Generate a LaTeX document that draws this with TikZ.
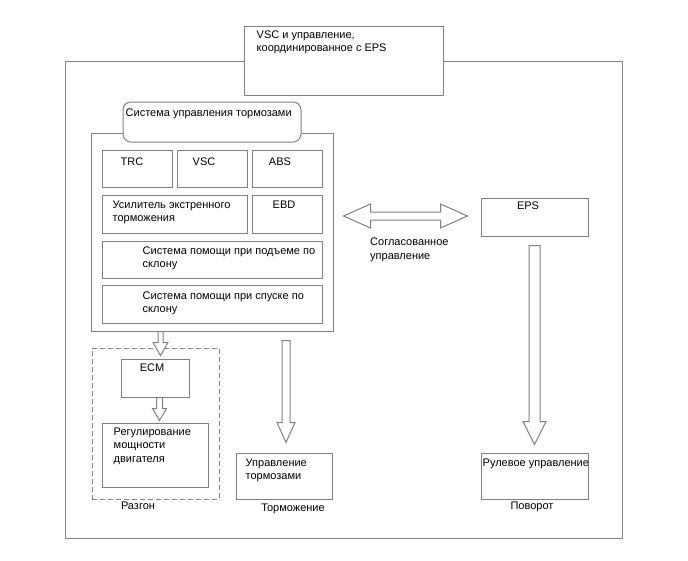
\documentclass[tikz,border=0pt]{standalone}
\usepackage{fontspec}
\setmainfont{Liberation Sans}
\usetikzlibrary{calc}

\definecolor{linegray}{RGB}{128,128,128}
\newcommand{\fs}{\fontsize{11}{13.5}\selectfont}

\tikzset{
  box/.style={draw=linegray, line width=1pt, fill=white, inner sep=0pt},
  txt/.style={font=\fs, align=left, inner sep=0pt, text=black},
  blk/.style={draw=linegray, line width=1pt, fill=white},
  % hollow arrow pointing down: shaft half width, head half width, head length
  blockdown/.style n args={3}{to path={let \p1=(\tikztostart), \p2=(\tikztotarget) in
    (\x1-#1,\y1) -- (\x1-#1,\y2+#3) -- (\x1-#2,\y2+#3) -- (\x1,\y2)
    -- (\x1+#2,\y2+#3) -- (\x1+#1,\y2+#3) -- (\x1+#1,\y1) -- cycle}},
  % hollow arrow with two heads, left to right
  blockboth/.style n args={3}{to path={let \p1=(\tikztostart), \p2=(\tikztotarget) in
    (\x1,\y1) -- (\x1+#3,\y1+#2) -- (\x1+#3,\y1+#1) -- (\x2-#3,\y1+#1) -- (\x2-#3,\y1+#2)
    -- (\x2,\y1) -- (\x2-#3,\y1-#2) -- (\x2-#3,\y1-#1) -- (\x1+#3,\y1-#1) -- (\x1+#3,\y1-#2) -- cycle}}
}

\begin{document}
\begin{tikzpicture}[x=1pt, y=-1pt]
  \useasboundingbox (0,0) rectangle (688,560);

  % outer frame
  \draw[linegray, line width=1pt] (65,61) rectangle (622,538);

  \node[box, minimum width=199, minimum height=69,
        label={[txt, anchor=north west, xshift=13pt, yshift=-5pt]north west:VSC и управление,\\координированное с EPS}]
        (title) at (343.5,60.5) {};

  % brake control block
  \node[box, minimum width=242, minimum height=198] (brk) at (212,232) {};
  \node[box, rounded corners=8pt, minimum width=178, minimum height=40,
        label={[txt, anchor=north west, xshift=3pt, yshift=-7.5pt]north west:Система управления тормозами}]
        (brkhead) at (212,122) {};

  \node[box, minimum width=70, minimum height=37,
        label={[txt, anchor=north, xshift=-5pt, yshift=-8pt]north:TRC}] (trc) at (137,168.5) {};
  \node[box, minimum width=70, minimum height=37,
        label={[txt, anchor=north, xshift=-8pt, yshift=-8pt]north:VSC}] (vsc) at (212,168.5) {};
  \node[box, minimum width=70, minimum height=37,
        label={[txt, anchor=north, xshift=-7pt, yshift=-8pt]north:ABS}] (abs) at (287,168.5) {};
  \node[box, minimum width=145, minimum height=38,
        label={[txt, anchor=north west, xshift=11pt, yshift=-6pt]north west:Усилитель экстренного\\торможения}]
        (eba) at (174.5,214) {};
  \node[box, minimum width=70, minimum height=38,
        label={[txt, anchor=north, xshift=-3pt, yshift=-6pt]north:EBD}] (ebd) at (287,214) {};
  \node[box, minimum width=220, minimum height=37,
        label={[txt, anchor=north west, xshift=41pt, yshift=-6pt]north west:Система помощи при подъеме по\\склону}]
        (hac) at (212,259.5) {};
  \node[box, minimum width=220, minimum height=38,
        label={[txt, anchor=north west, xshift=41pt, yshift=-7pt]north west:Система помощи при спуске по\\склону}]
        (dac) at (212,304) {};

  % acceleration
  \node[box, dashed, dash pattern=on 5pt off 3pt, minimum width=127, minimum height=151,
        label={[txt, anchor=north, xshift=-17.5pt, yshift=-2pt]south:Разгон}] (accel) at (155.5,423.5) {};
  \node[box, minimum width=68, minimum height=38,
        label={[txt, anchor=north, xshift=-3pt, yshift=-5pt]north:ECM}] (ecm) at (155,378) {};
  \node[box, minimum width=106, minimum height=64,
        label={[txt, anchor=north west, xshift=12pt, yshift=-5pt]north west:Регулирование\\мощности\\двигателя}]
        (engpwr) at (155,455) {};

  % braking and steering
  \node[box, minimum width=96, minimum height=46,
        label={[txt, anchor=north west, xshift=10pt, yshift=-6pt]north west:Управление\\тормозами},
        label={[txt, anchor=north, xshift=9pt, yshift=-4pt]south:Торможение}] (brkctl) at (284,476) {};
  \node[box, minimum width=107, minimum height=38,
        label={[txt, anchor=north, xshift=-6.5pt, yshift=-4pt]north:EPS}] (eps) at (534.5,217) {};
  \node[box, minimum width=107, minimum height=46,
        label={[txt, anchor=north west, xshift=2pt, yshift=-6pt]north west:Рулевое управление},
        label={[txt, anchor=north, xshift=-2.5pt, yshift=-2pt]south:Поворот}] (steer) at (534.5,476) {};

  \node[txt, anchor=north west] (coordlbl) at (370,238) {Согласованное\\управление};

  % arrows
  \coordinate (a1s) at ($(brk.south -| ecm.north)+(5.5,0)$);
  \coordinate (a1e) at ($(ecm.north)+(5.5,-3)$);
  \draw[blk] (a1s) to[blockdown={2.5pt}{7.5pt}{13pt}] (a1e);
  \coordinate (a2s) at ($(ecm.south)+(4.5,0)$);
  \coordinate (a2e) at ($(engpwr.north)+(4.5,-2)$);
  \draw[blk] (a2s) to[blockdown={3pt}{7pt}{12pt}] (a2e);
  \coordinate (a3s) at ($(brk.south -| brkctl.north)+(2,9)$);
  \coordinate (a3e) at ($(brkctl.north)+(2,-10)$);
  \draw[blk] (a3s) to[blockdown={4pt}{9pt}{20pt}] (a3e);
  \coordinate (a4s) at ($(eps.south)+(0,9)$);
  \coordinate (a4e) at ($(steer.north)+(0,-8)$);
  \draw[blk] (a4s) to[blockdown={5.5pt}{11.5pt}{23pt}] (a4e);
  \coordinate (a5s) at ($(brk.east)+(10,-16)$);
  \coordinate (a5e) at ($(eps.west)+(-13,-1)$);
  \draw[blk] (a5s) to[blockboth={4pt}{12pt}{27pt}] (a5e);
\end{tikzpicture}
\end{document}
